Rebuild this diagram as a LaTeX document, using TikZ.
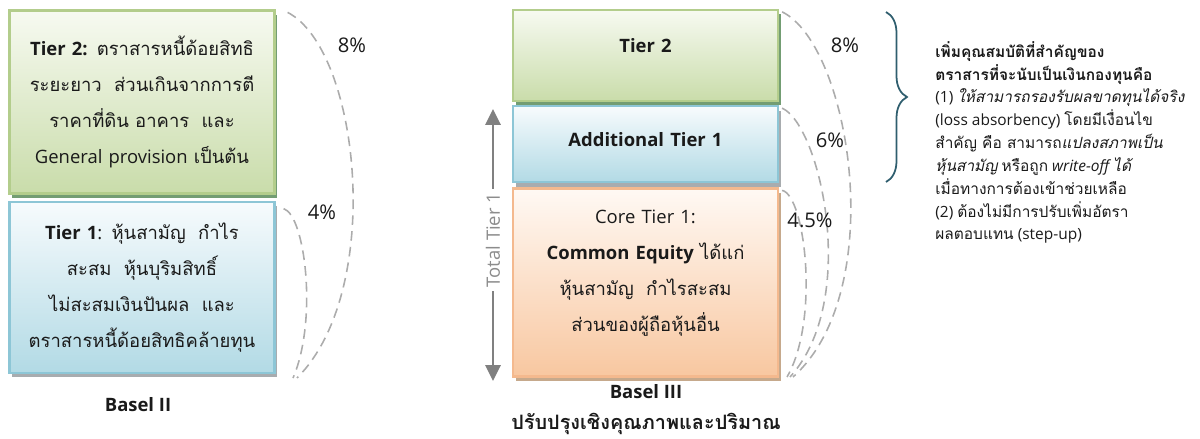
\documentclass[tikz,border=0pt]{standalone}
\usepackage{fontspec}
\setmainfont{Open Sans}
\newfontfamily\thai[Script=Thai]{Loma}
\usetikzlibrary{positioning,shadows,decorations.pathreplacing,arrows.meta}
\definecolor{gtop}{HTML}{F7FAF1}
\definecolor{gbot}{HTML}{C9DCAA}
\definecolor{gline}{HTML}{B3CD8C}
\definecolor{btop}{HTML}{F7FBFD}
\definecolor{bbot}{HTML}{B2DAE5}
\definecolor{bline}{HTML}{8DC6D6}
\definecolor{otop}{HTML}{FFF9F4}
\definecolor{obot}{HTML}{F8C7A0}
\definecolor{oline}{HTML}{F4B98E}
\definecolor{bracec}{HTML}{2F5E6E}
\definecolor{ink}{HTML}{1A1A1A}
\begin{document}
\begin{tikzpicture}[x=0.02cm,y=-0.02cm]
  \tikzset{tier/.style={draw,line width=1.3pt,minimum width=5.3cm,text width=5.1cm,
      align=center,inner sep=0pt,text=ink,font=\fontsize{10.5}{20.5}\selectfont},
    tiertwo/.style={tier,draw=gline,top color=gtop,bottom color=gbot,
      drop shadow={shadow xshift=1.5pt,shadow yshift=-2.5pt,fill=green!30!black,opacity=.55}},
    tierone/.style={tier,draw=bline,top color=btop,bottom color=bbot,
      drop shadow={shadow xshift=1.5pt,shadow yshift=-2.5pt,fill=cyan!20!black,opacity=.45}},
    coretier/.style={tier,draw=oline,top color=otop,bottom color=obot,
      drop shadow={shadow xshift=1.5pt,shadow yshift=-2.5pt,fill=orange!50!black,opacity=.45}},
    pct/.style={font=\fontsize{11.5}{13}\selectfont,text=ink,inner sep=1pt},
    arcline/.style={draw=gray!65,line width=0.9pt,dash pattern=on 5.5pt off 3.5pt},
    caption/.style={font=\bfseries\fontsize{10.5}{12}\selectfont,text=ink}}
  \useasboundingbox (0,0) rectangle (1200,439);

  % Basel II
  \node[tiertwo,minimum height=3.66cm] (l2) at (142,102)
  {{\bfseries Tier 2:} {\thai ตราสารหนี้ด้อยสิทธิ}\\
    {\thai ระยะยาว\ \ ส่วนเกินจากการตี}\\
    {\thai ราคาที่ดิน อาคาร\ \ และ}\\
    General provision {\thai เป็นต้น}};
  \node[tierone,minimum height=3.42cm,below=0.12cm of l2] (l1)
  {{\bfseries Tier 1}: {\thai หุ้นสามัญ\ \ กำไร}\\
    {\thai สะสม\ \ หุ้นบุริมสิทธิ์}\\
    {\thai ไม่สะสมเงินปันผล\ \ และ}\\
    {\thai ตราสารหนี้ด้อยสิทธิคล้ายทุน}};
  \node[caption] (b2) at (138,405) {Basel II};

  \coordinate (l2end) at (297,378);
  \coordinate (l1end) at (293,378);
  \draw[arcline] ([shift={(12,3)}]l2.north east) .. controls (360,50) and (385,290) .. (l2end);
  \draw[arcline] ([shift={(8,8)}]l1.north east) .. controls (305,215) and (318,320) .. (l1end);
  \node[pct] (p8a) at (352,45) {8\%};
  \node[pct] (p4) at (322,212) {4\%};

  % Basel III
  \node[tiertwo,minimum height=1.82cm,text depth=0.42cm] (m2) at (645.5,55.5)
  {{\bfseries Tier 2}};
  \node[tierone,minimum height=1.52cm,text depth=0.2cm,below=0.06cm of m2] (ma)
  {{\bfseries Additional Tier 1}};
  \node[coretier,minimum height=3.76cm,below=0.08cm of ma] (mc)
  {Core Tier 1:\\
    {\bfseries Common Equity} {\thai ได้แก่}\\
    {\thai หุ้นสามัญ\ \ กำไรสะสม}\\
    {\thai ส่วนของผู้ถือหุ้นอื่น}\\[-7pt]\mbox{}};
  \node[caption] (b3) at (646,392) {Basel III};
  \node[caption,inner sep=0pt,font=\bfseries\fontsize{11.3}{13}\selectfont] (b3t) at (646,424)
  {\thai ปรับปรุงเชิงคุณภาพและปริมาณ};

  \coordinate (m2end) at (793,377);
  \coordinate (maend) at (790,377);
  \coordinate (mcend) at (787,377);
  \draw[arcline] ([shift={(3,3)}]m2.north east) .. controls (850,45) and (890,290) .. (m2end);
  \draw[arcline] ([shift={(3,3)}]ma.north east) .. controls (820,125) and (860,300) .. (maend);
  \draw[arcline] ([shift={(3,3)}]mc.north east) .. controls (805,195) and (820,320) .. (mcend);
  \node[pct] (p8b) at (845,45) {8\%};
  \node[pct] (p6) at (830,140) {6\%};
  \node[pct] (p45) at (810,220) {4.5\%};

  % Total Tier 1
  \coordinate (ttop) at (493,109);
  \coordinate (tbot) at (493,381);
  \draw[gray,line width=1.7pt,{Triangle[width=8.5pt,length=9pt]}-{Triangle[width=8.5pt,length=9pt]}]
  (ttop) -- (tbot);
  \node[rotate=90,fill=white,text=gray!90,inner sep=2pt,
  font=\fontsize{10.5}{12}\selectfont] (tt) at (493,240) {Total Tier 1};

  % brace and note
  \coordinate (br1) at (886,12);
  \coordinate (br2) at (886,182);
  \draw[bracec,line width=1pt,decorate,decoration={brace,amplitude=0.42cm}] (br1) -- (br2);
  \node[anchor=north west,inner sep=0pt,align=left,text=ink,
  font=\fontsize{8.8}{13}\selectfont] (note) at (935,41)
  {{\thai\bfseries เพิ่มคุณสมบัติที่สำคัญของ}\\
    {\thai\bfseries ตราสารที่จะนับเป็นเงินกองทุนคือ}\\
    (1) {\thai\itshape ให้สามารถรองรับผลขาดทุนได้จริง}\\
    (loss absorbency) {\thai โดยมีเงื่อนไข}\\
    {\thai สำคัญ คือ สามารถ\itshape แปลงสภาพเป็น}\\
    {\thai\itshape หุ้นสามัญ} {\thai หรือถูก} {\itshape write-off} {\thai\itshape ได้}\\
    {\thai เมื่อทางการต้องเข้าช่วยเหลือ}\\
    (2) {\thai ต้องไม่มีการปรับเพิ่มอัตรา}\\
    {\thai ผลตอบแทน} (step-up)};
\end{tikzpicture}
\end{document}
